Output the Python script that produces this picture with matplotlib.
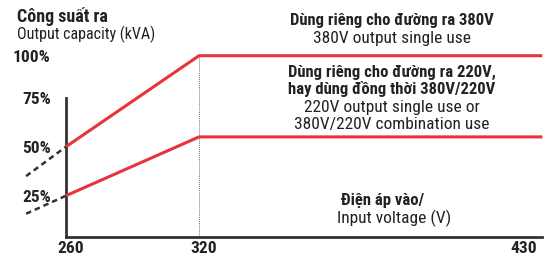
import numpy as np
import matplotlib
matplotlib.use("Agg")
import matplotlib.pyplot as plt
from matplotlib.transforms import ScaledTranslation

W, H = 552, 257

# chart values
voltage = [260, 320, 438]          # input voltage, last point = right end of the axis
cap_380 = [50, 100, 100]           # % output, 380V single use
cap_220 = [25, 55, 55]             # % output, 220V single / combined use
dash_voltage = [242, 260]          # dashed extrapolation below 260V
dash_380 = [35, 50]
dash_220 = [14, 25]
knee_voltage = 320
x_ticks = [260, 320, 430]
y_ticks = [25, 50, 75, 100]
y_tick_labels = ["25%", "50%", "75%", "100%"]

RED = "#e8333b"
AXIS = "#333333"
TEXT = "#222222"
FONT = ["Roboto Condensed", "DejaVu Sans"]

plt.rcParams["font.family"] = FONT

# schematic axes: piecewise linear scales (pixel anchors of the drawing)
X_BRK = np.array([260.0, 320.0, 430.0])
X_PX = np.array([66.0, 199.0, 519.0])
Y_BRK = np.array([0.0, 25.0, 75.0, 100.0])
Y_PX = np.array([236.7, 195.7, 97.7, 55.7])


def piecewise(src, dst):
    def f(v):
        v = np.asarray(v, dtype=float)
        out = np.interp(v, src, dst)
        lo = v < src[0]
        hi = v > src[-1]
        s0 = (dst[1] - dst[0]) / (src[1] - src[0])
        s1 = (dst[-1] - dst[-2]) / (src[-1] - src[-2])
        out = np.where(lo, dst[0] + (v - src[0]) * s0, out)
        out = np.where(hi, dst[-1] + (v - src[-1]) * s1, out)
        return out
    return f


fx, fx_inv = piecewise(X_BRK, X_PX), piecewise(X_PX, X_BRK)
fy, fy_inv = piecewise(Y_BRK, -Y_PX), piecewise(-Y_PX, Y_BRK)

fig = plt.figure(figsize=(W / 100, H / 100), dpi=100)
ax = fig.add_axes([0, 0, 1, 1])
ax.patch.set_alpha(0)
ax.set_xscale("function", functions=(fx, fx_inv))
ax.set_yscale("function", functions=(fy, fy_inv))
ax.set_xlim(fx_inv(0.0), fx_inv(float(W)))
ax.set_ylim(fy_inv(-float(H)), fy_inv(0.0))

# curves
ax.plot(voltage, cap_380, color=RED, lw=2.2, solid_capstyle="butt", zorder=3)
ax.plot(voltage, cap_220, color=RED, lw=2.2, solid_capstyle="butt", zorder=3)
ax.plot(dash_voltage, dash_380, color=AXIS, lw=1.8, ls=(0, (2.2, 1.6)), zorder=2)
ax.plot(dash_voltage, dash_220, color=AXIS, lw=1.8, ls=(0, (2.2, 1.6)), zorder=2)
ax.vlines(knee_voltage, 0, cap_380[1], color="#777777", lw=0.7,
          linestyles=(0, (1, 1)), zorder=1)

# frame
for side in ["top", "right"]:
    ax.spines[side].set_visible(False)
ax.spines["left"].set_position(("data", voltage[0]))
ax.spines["bottom"].set_position(("data", 0))
ax.spines["left"].set_bounds(0, 75)
ax.spines["bottom"].set_bounds(voltage[0], voltage[-1])
for side in ["left", "bottom"]:
    ax.spines[side].set_color(AXIS)
    ax.spines[side].set_linewidth(2.0)
    ax.spines[side].set_capstyle("projecting")

ax.set_yticks(y_ticks)
ax.set_yticklabels(y_tick_labels)
ax.set_yticks([75], minor=True)
ax.tick_params(axis="y", which="major", length=0, pad=11,
               labelsize=12.5, labelcolor=TEXT)
ax.tick_params(axis="y", which="minor", length=6, width=2.0, color=AXIS,
               direction="out")
for lab in ax.get_yticklabels():
    lab.set_fontweight("bold")

ax.set_xticks(x_ticks)
ax.set_xticklabels([str(v) for v in x_ticks])
ax.xaxis.set_minor_locator(plt.NullLocator())
ax.tick_params(axis="x", length=0, pad=3, labelsize=12.5, labelcolor=TEXT)
shift = ScaledTranslation(5 / 100, 0, fig.dpi_scale_trans)
for lab in ax.get_xticklabels():
    lab.set_fontweight("bold")
    lab.set_transform(lab.get_transform() + shift)


def put(px, py, s, bold=False, ha="center", size=None):
    if size is None:
        size = 12 if bold else 12.5
    ax.text(px / W, 1 - py / H, s, transform=ax.transAxes, ha=ha, va="center",
            fontsize=size, fontweight="bold" if bold else "normal", color=TEXT)


put(17, 16, "Công suất ra", bold=True, ha="left", size=13)
put(17, 34, "Output capacity (kVA)", ha="left", size=11.5)

put(392, 21, "Dùng riêng cho đường ra 380V", bold=True)
put(392, 39, "380V output single use")
put(392, 72, "Dùng riêng cho đường ra 220V,", bold=True)
put(392, 89, "hay dùng đồng thời 380V/220V", bold=True)
put(392, 107, "220V output single use or")
put(392, 124, "380V/220V combination use")

put(383, 200, "Điện áp vào/", bold=True)
put(394, 218, "Input voltage (V)")

fig.savefig("out.png", dpi=100)
